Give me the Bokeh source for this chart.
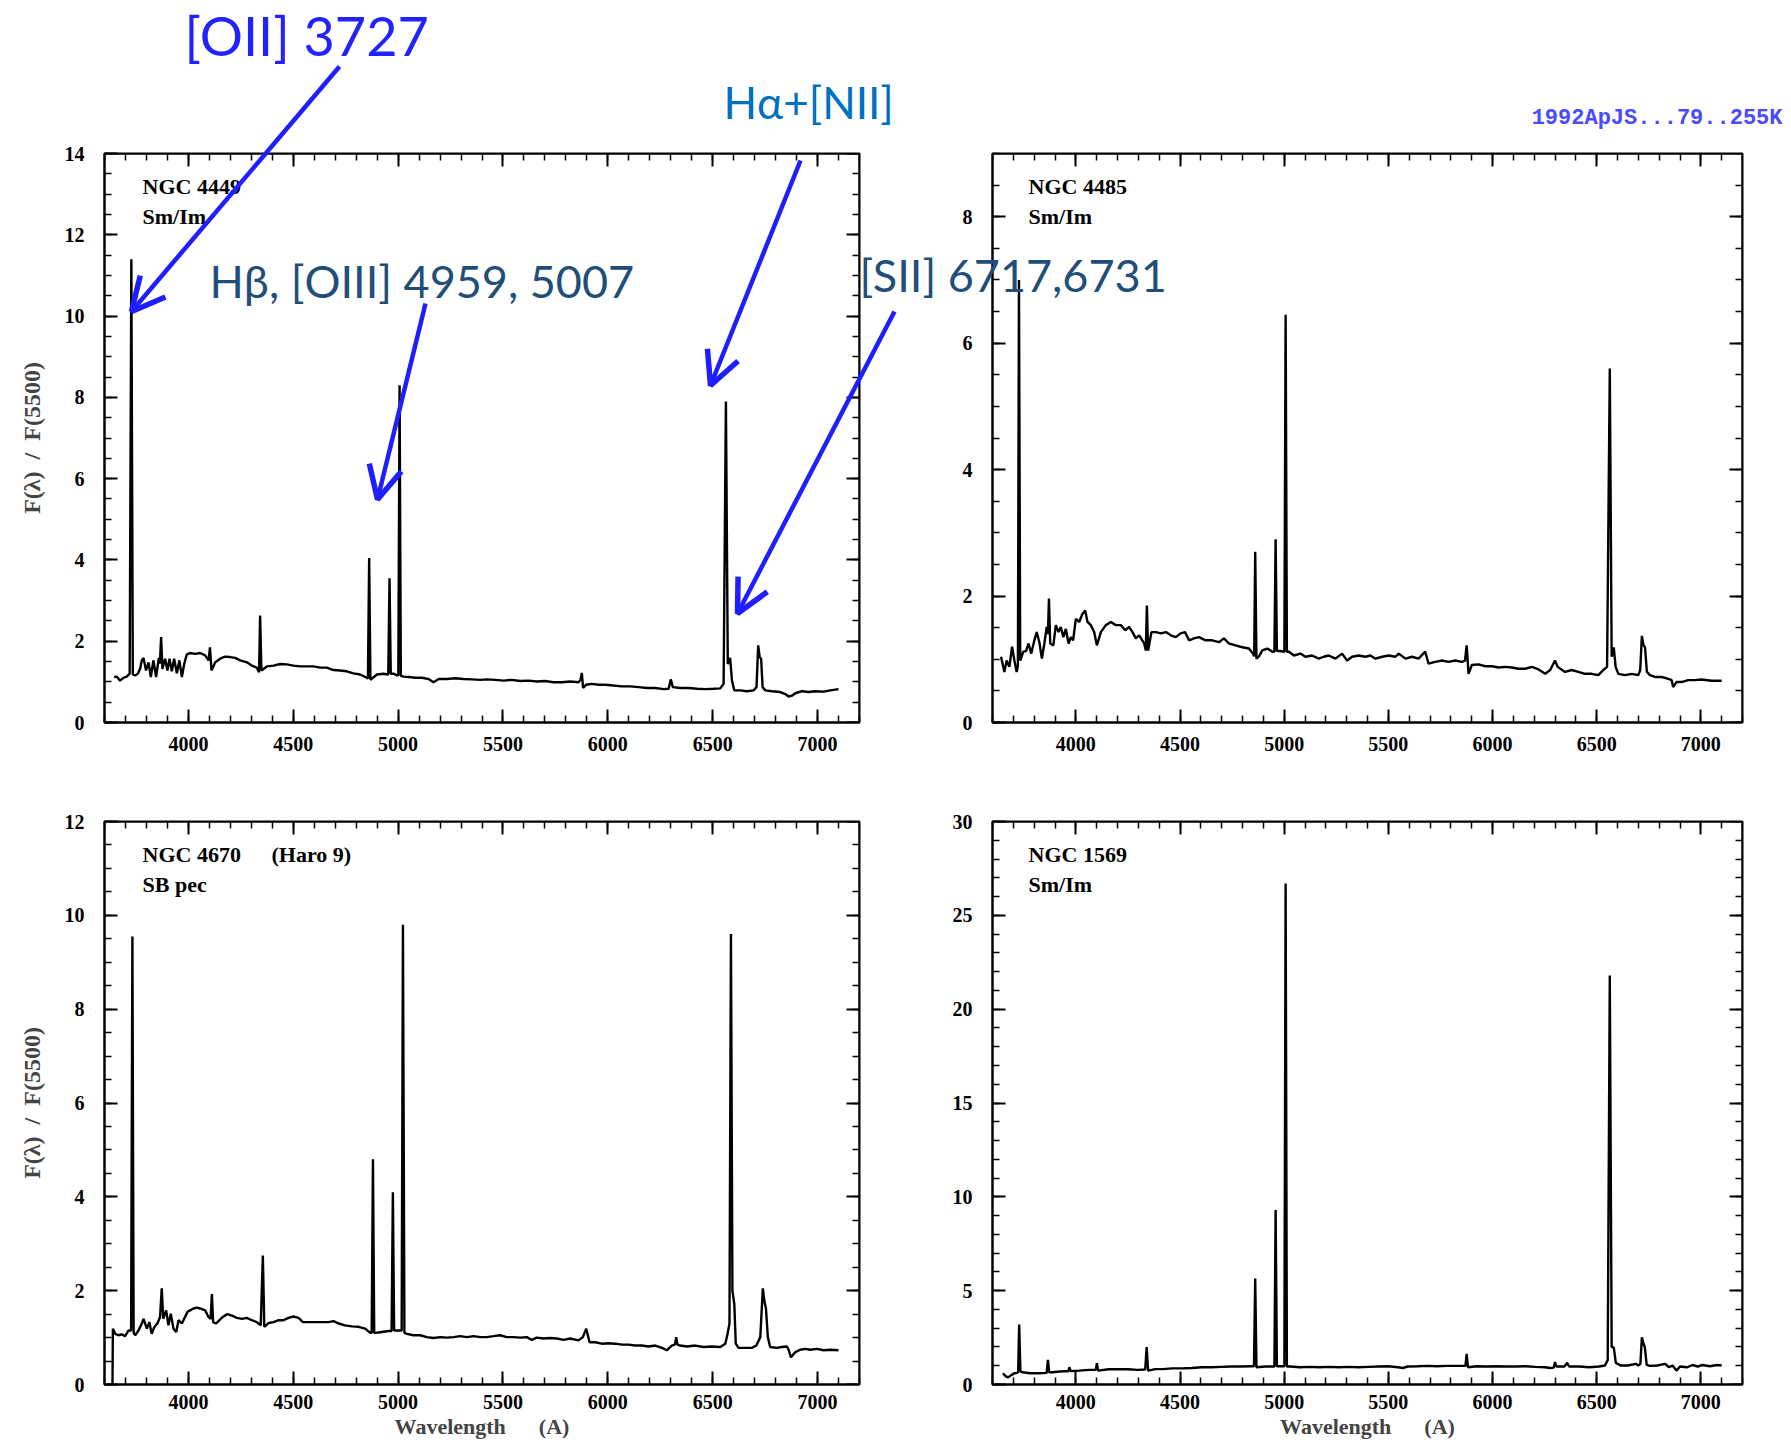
from bokeh.plotting import figure
from bokeh.models import (Range1d, LinearAxis, SingleIntervalTicker, Label, Arrow, OpenHead,
                          CustomJSTickFormatter)
from bokeh.layouts import column, row
from bokeh.embed import file_html
from bokeh.resources import INLINE

# ---------------- data ----------------
wl_ngc4449 = [3646, 3658, 3674, 3690, 3706, 3720, 3728, 3735, 3748, 3760,
              3770, 3778, 3786, 3798, 3810, 3821, 3833, 3846, 3859, 3864,
              3870, 3876, 3889, 3900, 3910, 3921, 3932, 3945, 3957, 3969,
              3980, 3992, 4008, 4032, 4056, 4080, 4096, 4103, 4110, 4128,
              4151, 4175, 4199, 4223, 4247, 4279, 4302, 4326, 4337, 4342,
              4348, 4374, 4406, 4438, 4469, 4501, 4533, 4565, 4597, 4628,
              4660, 4692, 4724, 4755, 4787, 4819, 4851, 4856, 4862, 4868,
              4880, 4899, 4931, 4953, 4959, 4965, 4980, 4994, 5001, 5007,
              5013, 5026, 5050, 5082, 5113, 5145, 5169, 5193, 5233, 5272,
              5312, 5352, 5392, 5423, 5463, 5503, 5542, 5582, 5622, 5662,
              5701, 5741, 5781, 5821, 5860, 5870, 5876, 5882, 5897, 5924,
              5956, 5988, 6027, 6067, 6107, 6147, 6186, 6226, 6266, 6290,
              6300, 6310, 6345, 6385, 6425, 6465, 6504, 6536, 6552, 6563,
              6572, 6583, 6592, 6603, 6632, 6663, 6695, 6709, 6717, 6724,
              6731, 6738, 6751, 6783, 6822, 6846, 6862, 6878, 6894, 6926,
              6957, 6989, 7029, 7061, 7100]
fx_ngc4449 = [1.12, 1.13, 1.03, 1.10, 1.13, 1.20, 11.4, 1.18, 1.16, 1.21,
              1.32, 1.53, 1.59, 1.28, 1.48, 1.12, 1.53, 1.12, 1.59, 1.45,
              2.10, 1.32, 1.57, 1.28, 1.57, 1.26, 1.57, 1.21, 1.53, 1.12,
              1.44, 1.67, 1.71, 1.69, 1.71, 1.65, 1.53, 1.85, 1.28, 1.48,
              1.57, 1.62, 1.61, 1.59, 1.53, 1.48, 1.40, 1.35, 1.24, 2.63,
              1.28, 1.38, 1.40, 1.44, 1.43, 1.40, 1.38, 1.38, 1.38, 1.35,
              1.35, 1.29, 1.28, 1.26, 1.21, 1.18, 1.10, 1.08, 4.05, 1.05,
              1.10, 1.18, 1.20, 1.18, 3.55, 1.20, 1.20, 1.16, 1.16, 8.30,
              1.15, 1.13, 1.12, 1.10, 1.10, 1.07, 0.99, 1.07, 1.07, 1.09,
              1.07, 1.06, 1.05, 1.06, 1.05, 1.03, 1.05, 1.02, 1.03, 1.01,
              1.02, 0.99, 0.99, 1.01, 0.99, 1.05, 1.22, 0.85, 0.93, 0.95,
              0.93, 0.93, 0.91, 0.89, 0.89, 0.87, 0.85, 0.85, 0.82, 0.83,
              1.06, 0.87, 0.85, 0.85, 0.83, 0.82, 0.83, 0.84, 0.95, 7.90,
              1.44, 1.59, 1.03, 0.79, 0.79, 0.77, 0.79, 0.87, 1.90, 1.61,
              1.57, 0.87, 0.79, 0.77, 0.75, 0.70, 0.64, 0.66, 0.72, 0.77,
              0.75, 0.77, 0.76, 0.79, 0.82]

wl_ngc4485 = [3641, 3657, 3668, 3681, 3694, 3705, 3716, 3722, 3727, 3733,
              3748, 3761, 3773, 3786, 3801, 3812, 3825, 3837, 3849, 3860,
              3866, 3871, 3877, 3892, 3904, 3917, 3928, 3940, 3952, 3965,
              3976, 3987, 4000, 4016, 4032, 4045, 4056, 4072, 4088, 4101,
              4120, 4144, 4168, 4192, 4216, 4237, 4256, 4272, 4288, 4304,
              4328, 4336, 4341, 4347, 4363, 4384, 4408, 4432, 4456, 4480,
              4503, 4524, 4543, 4567, 4591, 4623, 4655, 4687, 4711, 4735,
              4767, 4799, 4831, 4850, 4856, 4861, 4867, 4880, 4895, 4919,
              4943, 4953, 4959, 4965, 4980, 5001, 5007, 5013, 5023, 5047,
              5078, 5102, 5134, 5166, 5190, 5214, 5246, 5278, 5302, 5326,
              5358, 5390, 5414, 5438, 5470, 5502, 5534, 5550, 5582, 5614,
              5645, 5677, 5693, 5725, 5757, 5789, 5821, 5853, 5868, 5876,
              5885, 5901, 5933, 5965, 5997, 6029, 6061, 6093, 6125, 6157,
              6189, 6221, 6253, 6277, 6300, 6313, 6348, 6380, 6412, 6444,
              6476, 6508, 6532, 6550, 6563, 6572, 6582, 6591, 6604, 6636,
              6668, 6700, 6709, 6717, 6725, 6732, 6741, 6756, 6780, 6812,
              6844, 6860, 6867, 6883, 6907, 6939, 6971, 7003, 7051, 7100]
fx_ngc4485 = [1.04, 0.80, 0.98, 0.88, 1.20, 0.98, 0.80, 0.90, 7.00, 0.98,
              1.12, 1.13, 1.25, 1.09, 1.30, 1.43, 1.27, 1.01, 1.25, 1.51,
              1.40, 1.96, 1.25, 1.22, 1.54, 1.43, 1.51, 1.35, 1.48, 1.25,
              1.35, 1.30, 1.64, 1.59, 1.72, 1.77, 1.59, 1.54, 1.43, 1.22,
              1.43, 1.54, 1.59, 1.54, 1.54, 1.46, 1.51, 1.43, 1.33, 1.38,
              1.25, 1.14, 1.85, 1.14, 1.43, 1.43, 1.41, 1.43, 1.38, 1.35,
              1.41, 1.43, 1.30, 1.33, 1.35, 1.30, 1.30, 1.27, 1.33, 1.25,
              1.22, 1.19, 1.17, 1.09, 1.05, 2.70, 1.01, 1.05, 1.14, 1.17,
              1.12, 1.12, 2.90, 1.13, 1.13, 1.12, 6.45, 1.12, 1.12, 1.06,
              1.09, 1.04, 1.06, 1.01, 1.04, 1.06, 1.01, 1.09, 0.98, 1.04,
              1.06, 1.04, 1.06, 1.01, 1.04, 1.06, 1.04, 1.09, 1.01, 1.04,
              1.01, 1.12, 0.93, 0.96, 0.98, 0.96, 0.98, 0.96, 0.98, 1.22,
              0.77, 0.91, 0.92, 0.89, 0.89, 0.87, 0.88, 0.87, 0.85, 0.85,
              0.88, 0.84, 0.77, 0.83, 0.98, 0.88, 0.80, 0.83, 0.80, 0.77,
              0.77, 0.75, 0.83, 0.88, 5.60, 1.04, 1.19, 0.88, 0.77, 0.75,
              0.77, 0.75, 0.83, 1.37, 1.22, 1.19, 0.80, 0.75, 0.72, 0.72,
              0.69, 0.67, 0.56, 0.64, 0.64, 0.67, 0.67, 0.68, 0.66, 0.66]

wl_ngc4670 = [3638, 3640, 3651, 3666, 3682, 3698, 3714, 3727, 3733, 3739,
              3746, 3762, 3778, 3786, 3802, 3814, 3825, 3837, 3852, 3865,
              3873, 3880, 3894, 3905, 3916, 3929, 3942, 3953, 3969, 3984,
              3996, 4008, 4024, 4040, 4056, 4080, 4096, 4106, 4112, 4118,
              4132, 4148, 4167, 4186, 4207, 4231, 4255, 4279, 4302, 4326,
              4345, 4355, 4362, 4382, 4406, 4430, 4453, 4477, 4501, 4525,
              4546, 4573, 4604, 4636, 4668, 4692, 4716, 4747, 4779, 4811,
              4843, 4867, 4874, 4880, 4886, 4892, 4922, 4954, 4969, 4975,
              4981, 4994, 5017, 5023, 5030, 5042, 5073, 5105, 5137, 5169,
              5201, 5233, 5264, 5296, 5328, 5360, 5391, 5423, 5455, 5486,
              5518, 5550, 5582, 5614, 5637, 5661, 5693, 5725, 5757, 5789,
              5820, 5860, 5881, 5897, 5913, 5940, 5971, 6003, 6035, 6067,
              6099, 6130, 6162, 6194, 6226, 6258, 6281, 6305, 6320, 6326,
              6332, 6345, 6377, 6417, 6456, 6496, 6536, 6560, 6571, 6580,
              6587, 6594, 6603, 6610, 6623, 6655, 6687, 6708, 6727, 6739,
              6746, 6754, 6763, 6774, 6806, 6830, 6854, 6863, 6873, 6894,
              6917, 6941, 6965, 6997, 7029, 7061, 7100]
fx_ngc4670 = [0.00, 1.19, 1.08, 1.05, 1.07, 1.03, 1.15, 1.15, 9.55, 1.10,
              1.05, 1.15, 1.30, 1.40, 1.19, 1.33, 1.08, 1.22, 1.30, 1.44,
              2.05, 1.40, 1.58, 1.26, 1.51, 1.19, 1.12, 1.37, 1.30, 1.44,
              1.55, 1.58, 1.62, 1.64, 1.62, 1.58, 1.44, 1.40, 1.93, 1.33,
              1.30, 1.37, 1.45, 1.50, 1.47, 1.42, 1.40, 1.42, 1.37, 1.33,
              1.26, 2.75, 1.23, 1.31, 1.33, 1.37, 1.37, 1.42, 1.45, 1.42,
              1.33, 1.33, 1.33, 1.33, 1.33, 1.35, 1.30, 1.26, 1.24, 1.23,
              1.19, 1.10, 1.10, 4.80, 1.10, 1.10, 1.12, 1.14, 1.14, 4.10,
              1.15, 1.15, 1.15, 9.80, 1.10, 1.08, 1.05, 1.05, 1.01, 0.99,
              1.01, 1.00, 1.01, 1.03, 1.01, 1.03, 1.01, 1.01, 1.03, 1.05,
              1.01, 1.01, 1.00, 1.01, 0.95, 1.00, 0.98, 0.99, 0.98, 0.95,
              0.98, 0.94, 1.01, 1.19, 0.90, 0.90, 0.87, 0.88, 0.87, 0.85,
              0.85, 0.83, 0.83, 0.81, 0.83, 0.78, 0.73, 0.83, 0.85, 1.01,
              0.85, 0.83, 0.81, 0.83, 0.80, 0.81, 0.80, 0.87, 1.08, 1.30,
              9.60, 2.00, 1.72, 0.87, 0.78, 0.78, 0.78, 0.83, 1.01, 2.05,
              1.79, 1.62, 1.01, 0.80, 0.78, 0.80, 0.81, 0.73, 0.58, 0.69,
              0.74, 0.76, 0.74, 0.76, 0.73, 0.74, 0.73]

wl_ngc1569 = [3650, 3662, 3675, 3690, 3705, 3718, 3723, 3728, 3734, 3745,
              3780, 3820, 3860, 3866, 3872, 3890, 3922, 3957, 3964, 3969,
              3975, 4016, 4063, 4096, 4101, 4107, 4157, 4204, 4251, 4298,
              4333, 4340, 4347, 4381, 4416, 4463, 4510, 4557, 4604, 4651,
              4698, 4746, 4793, 4840, 4855, 4861, 4867, 4910, 4953, 4959,
              4965, 5001, 5007, 5013, 5030, 5075, 5122, 5169, 5216, 5263,
              5310, 5357, 5404, 5452, 5499, 5546, 5570, 5593, 5640, 5687,
              5734, 5781, 5828, 5870, 5876, 5882, 5923, 5970, 6017, 6064,
              6111, 6158, 6206, 6253, 6276, 6294, 6300, 6306, 6345, 6358,
              6368, 6417, 6464, 6511, 6540, 6553, 6563, 6572, 6582, 6592,
              6615, 6650, 6688, 6700, 6710, 6717, 6725, 6731, 6740, 6755,
              6790, 6829, 6846, 6864, 6883, 6900, 6935, 6960, 6985, 7008,
              7043, 7078, 7100]
fx_ngc1569 = [0.60, 0.45, 0.38, 0.50, 0.60, 0.62, 0.66, 3.20, 0.70, 0.65,
              0.60, 0.60, 0.62, 1.31, 0.65, 0.65, 0.69, 0.71, 0.71, 0.92,
              0.71, 0.74, 0.78, 0.78, 1.13, 0.74, 0.81, 0.82, 0.81, 0.78,
              0.80, 1.99, 0.74, 0.82, 0.82, 0.86, 0.86, 0.88, 0.92, 0.92,
              0.94, 0.96, 0.96, 0.97, 0.97, 5.65, 0.92, 0.96, 0.96, 9.30,
              0.97, 0.97, 26.7, 0.96, 0.96, 0.92, 0.94, 0.92, 0.94, 0.92,
              0.94, 0.92, 0.94, 0.96, 0.97, 0.92, 0.88, 0.96, 0.97, 0.99,
              0.97, 0.99, 0.99, 0.99, 1.63, 0.92, 0.97, 0.96, 0.97, 0.96,
              0.96, 0.97, 0.94, 0.92, 0.88, 0.90, 1.20, 0.96, 0.96, 1.15,
              0.96, 0.96, 0.92, 0.96, 1.01, 1.30, 21.8, 2.00, 1.98, 1.15,
              1.01, 1.01, 1.10, 1.01, 1.10, 2.52, 2.17, 2.00, 1.05, 0.99,
              1.01, 1.10, 0.92, 1.01, 0.74, 0.96, 0.92, 1.04, 0.96, 1.04,
              0.97, 1.04, 1.01]

galaxy_names = ["NGC 4449", "NGC 4485", "NGC 4670", "NGC 1569"]
galaxy_types = ["Sm/Im", "Sm/Im", "SB pec", "Sm/Im"]
galaxy_note = "(Haro 9)"
y_max = [14, 9, 12, 30]
y_major = [2, 2, 2, 5]
y_minor_n = [4, 4, 4, 5]
x_start, x_end = 3600, 7200
x_major, x_minor_n = 500, 5
y_title = "F(λ)\u00a0\u00a0/\u00a0\u00a0F(5500)"
x_title = "Wavelength" + "\u00a0" * 6 + "(A)"
line_labels = ["[OII] 3727", "Hβ, [OIII] 4959, 5007", "Hα+[NII]", "[SII] 6717,6731"]
ref_code = "1992ApJS...79..255K"

# ---------------- layout geometry (pixels) ----------------
W_L, W_R, H_T, H_B = 925, 866, 776, 668
H_OVER = 640
borders = [(104, 66, 153, 54), (67, 49, 153, 54), (104, 66, 45, 60), (67, 49, 45, 60)]
sizes = [(W_L, H_T), (W_R, H_T), (W_L, H_B), (W_R, H_B)]

SERIF = "Liberation Serif"
ANN = "Lato"
BLUE = "#1e1eff"


def style_axis(ax):
    ax.axis_line_color = "black"
    ax.axis_line_width = 2
    ax.major_tick_in = 13
    ax.major_tick_out = 0
    ax.minor_tick_in = 7
    ax.minor_tick_out = 0
    ax.major_tick_line_width = 2
    ax.minor_tick_line_width = 1.5
    ax.major_tick_line_color = "black"
    ax.minor_tick_line_color = "black"
    ax.major_label_text_font = SERIF
    ax.major_label_text_font_style = "bold"
    ax.major_label_text_font_size = "20px"
    ax.major_label_text_color = "black"


def add_text(p, txt, cx, cy, size, color, font=ANN, align="left", style="normal"):
    p.add_layout(Label(x=cx, y=cy, x_units="canvas", y_units="canvas", text=txt,
                       text_font=font, text_font_size=size, text_color=color,
                       text_align=align, text_baseline="alphabetic", text_font_style=style))


def add_arrow(p, c0, c1):
    p.add_layout(Arrow(x_start=c0[0], y_start=c0[1], x_end=c1[0], y_end=c1[1],
                       start_units="canvas", end_units="canvas",
                       line_color=BLUE, line_width=4.5,
                       end=OpenHead(size=33, line_color=BLUE, line_width=5.5)))


def make_panel(i, wl, fx):
    bl, br, bt, bb = borders[i]
    w, h = sizes[i]
    p = figure(width=w, height=h, x_range=Range1d(x_start, x_end), y_range=Range1d(0, y_max[i]),
               output_backend="svg", toolbar_location=None,
               min_border_left=bl, min_border_right=br, min_border_top=bt, min_border_bottom=bb)
    p.xgrid.visible = False
    p.ygrid.visible = False
    p.outline_line_color = "black"
    p.outline_line_width = 2
    p.border_fill_color = "white"
    p.background_fill_color = "white"

    xa = p.xaxis[0]
    ya = p.yaxis[0]
    xa.ticker = SingleIntervalTicker(interval=x_major, num_minor_ticks=x_minor_n)
    ya.ticker = SingleIntervalTicker(interval=y_major[i], num_minor_ticks=y_minor_n[i])
    style_axis(xa)
    style_axis(ya)
    ya.major_label_standoff = 20
    if i < 2:
        xa.major_label_standoff = 14
    else:
        xa.major_label_standoff = 10
        xa.axis_label = x_title
        xa.axis_label_standoff = 2
        xa.axis_label_text_font = SERIF
        xa.axis_label_text_font_style = "bold"
        xa.axis_label_text_font_size = "22px"
    if i in (0, 2):
        ya.axis_label = y_title
        ya.axis_label_standoff = 17
        ya.axis_label_text_font = SERIF
        ya.axis_label_text_font_style = "bold"
        ya.axis_label_text_font_size = "24px"

    top = LinearAxis(fixed_location=y_max[i],
                     ticker=SingleIntervalTicker(interval=x_major, num_minor_ticks=x_minor_n),
                     formatter=CustomJSTickFormatter(code="return ''"))
    style_axis(top)
    p.add_layout(top, "above")
    right = LinearAxis(fixed_location=x_end,
                       ticker=SingleIntervalTicker(interval=y_major[i], num_minor_ticks=y_minor_n[i]),
                       formatter=CustomJSTickFormatter(code="return ''"))
    style_axis(right)
    p.add_layout(right, "right")

    p.line(wl, fx, line_color="black", line_width=2.4)

    # galaxy name / type
    lx = 142 if i in (0, 2) else 103
    b1, b2 = (186, 216) if i < 2 else (78, 108)
    add_text(p, galaxy_names[i], lx, b1, "22px", "black", font=SERIF, style="bold")
    add_text(p, galaxy_types[i], lx, b2, "22px", "black", font=SERIF, style="bold")
    if i == 2:
        add_text(p, galaxy_note, 271, b1, "22px", "black", font=SERIF, style="bold")
    return p


f1 = make_panel(0, wl_ngc4449, fx_ngc4449)
f2 = make_panel(1, wl_ngc4485, fx_ngc4485)
f3 = make_panel(2, wl_ngc4670, fx_ngc4670)
f4 = make_panel(3, wl_ngc1569, fx_ngc1569)

# transparent overlay across the top row, holding the line identifications
ov = figure(width=W_L + W_R, height=H_OVER, x_range=Range1d(0, W_L + W_R), y_range=Range1d(H_OVER, 0),
            output_backend="svg", toolbar_location=None, x_axis_location=None, y_axis_location=None,
            min_border=0, margin=(-H_T, 0, H_T - H_OVER, 0))
ov.title.visible = False
ov.xgrid.visible = False
ov.ygrid.visible = False
ov.outline_line_color = None
ov.background_fill_color = None
ov.border_fill_color = None

add_text(ov, line_labels[0], 184, 35, "54px", "#2222ff")
add_text(ov, line_labels[1], 209, 280, "45px", "#1f4e79")
add_text(ov, line_labels[2], 723, 101, "44px", "#0070c0")
add_text(ov, line_labels[3], 859, 274, "45px", "#1f4e79")
add_text(ov, ref_code, 1782, 118, "22px", "#4a4aff", font="Liberation Mono", align="right",
         style="bold")
add_arrow(ov, (339, 66), (131, 311))
add_arrow(ov, (425, 303), (377, 499))
add_arrow(ov, (800, 160), (710, 385))
add_arrow(ov, (894, 311), (737, 613))

layout = column(row(f1, f2), ov, row(f3, f4))

open("out.html", "w").write(file_html(layout, INLINE))
